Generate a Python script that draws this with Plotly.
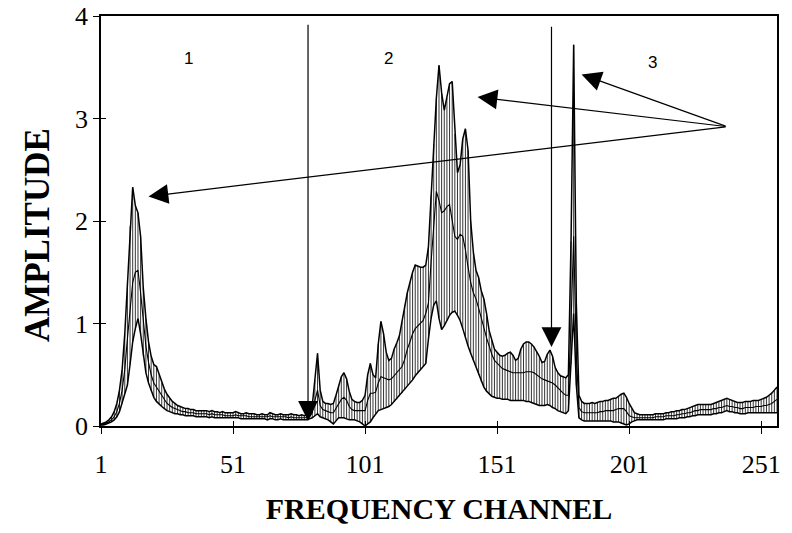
import plotly.graph_objects as go

channels = list(range(1, 258))

upper = [
    0.02, 0.03, 0.04, 0.06, 0.09, 0.14, 0.22, 0.35, 0.55, 0.90,
    1.40, 1.95, 2.33, 2.15, 2.08, 1.85, 1.35, 1.05, 0.82, 0.68,
    0.60, 0.58, 0.50, 0.42, 0.36, 0.31, 0.27, 0.24, 0.22, 0.20,
    0.19, 0.18, 0.17, 0.17, 0.16, 0.16, 0.15, 0.15, 0.15, 0.15,
    0.15, 0.14, 0.15, 0.14, 0.14, 0.13, 0.14, 0.13, 0.13, 0.13,
    0.13, 0.14, 0.13, 0.12, 0.12, 0.13, 0.12, 0.12, 0.12, 0.11,
    0.11, 0.12, 0.11, 0.11, 0.13, 0.12, 0.11, 0.11, 0.12, 0.11,
    0.11, 0.11, 0.12, 0.11, 0.11, 0.10, 0.11, 0.10, 0.11, 0.12,
    0.20, 0.45, 0.71, 0.35, 0.24, 0.22, 0.22, 0.21, 0.22, 0.30,
    0.40, 0.48, 0.52, 0.46, 0.34, 0.26, 0.24, 0.23, 0.23, 0.25,
    0.30, 0.50, 0.61, 0.50, 0.47, 0.80, 1.02, 0.90, 0.72, 0.64,
    0.66, 0.75, 0.81, 0.88, 1.02, 1.18, 1.30, 1.40, 1.50, 1.57,
    1.56, 1.55, 1.55, 1.57, 1.75, 2.25, 2.75, 3.20, 3.52, 3.25,
    3.08, 3.20, 3.34, 3.36, 2.85, 2.47, 2.55, 2.80, 2.90, 2.69,
    2.00, 1.70, 1.52, 1.45, 1.32, 1.24, 1.10, 0.93, 0.84, 0.75,
    0.72, 0.69, 0.68, 0.69, 0.71, 0.72, 0.69, 0.64, 0.66, 0.75,
    0.80, 0.82, 0.82, 0.80, 0.77, 0.73, 0.68, 0.62, 0.63, 0.70,
    0.74, 0.68, 0.57, 0.52, 0.49, 0.48, 0.47, 0.50, 1.80, 3.72,
    1.20, 0.30, 0.24, 0.22, 0.22, 0.22, 0.23, 0.22, 0.23, 0.24,
    0.24, 0.25, 0.25, 0.26, 0.27, 0.27, 0.29, 0.31, 0.32, 0.28,
    0.22, 0.17, 0.13, 0.12, 0.11, 0.11, 0.11, 0.11, 0.11, 0.11,
    0.12, 0.12, 0.12, 0.12, 0.13, 0.13, 0.14, 0.14, 0.15, 0.15,
    0.16, 0.16, 0.17, 0.18, 0.19, 0.20, 0.21, 0.21, 0.21, 0.21,
    0.21, 0.21, 0.22, 0.23, 0.24, 0.25, 0.26, 0.27, 0.26, 0.25,
    0.24, 0.23, 0.23, 0.23, 0.24, 0.24, 0.24, 0.25, 0.25, 0.25,
    0.26, 0.27, 0.28, 0.30, 0.32, 0.35, 0.38,
]

mean = [
    0.01, 0.02, 0.03, 0.04, 0.06, 0.09, 0.14, 0.22, 0.35, 0.55,
    0.85, 1.15, 1.40, 1.50, 1.52, 1.30, 1.00, 0.78, 0.62, 0.50,
    0.42, 0.38, 0.33, 0.29, 0.25, 0.22, 0.20, 0.18, 0.17, 0.16,
    0.15, 0.14, 0.14, 0.13, 0.13, 0.13, 0.12, 0.12, 0.12, 0.12,
    0.12, 0.11, 0.12, 0.11, 0.11, 0.11, 0.11, 0.10, 0.10, 0.10,
    0.10, 0.11, 0.10, 0.10, 0.10, 0.10, 0.09, 0.09, 0.09, 0.09,
    0.09, 0.09, 0.09, 0.09, 0.10, 0.09, 0.09, 0.09, 0.09, 0.09,
    0.09, 0.08, 0.09, 0.08, 0.08, 0.08, 0.08, 0.08, 0.08, 0.09,
    0.13, 0.25, 0.35, 0.20, 0.16, 0.15, 0.14, 0.13, 0.13, 0.17,
    0.22, 0.26, 0.28, 0.25, 0.19, 0.16, 0.15, 0.15, 0.15, 0.15,
    0.15, 0.25, 0.32, 0.32, 0.33, 0.42, 0.48, 0.47, 0.46, 0.45,
    0.46, 0.49, 0.52, 0.55, 0.58, 0.65, 0.75, 0.82, 0.90, 0.95,
    0.98, 1.01, 1.03, 1.10, 1.20, 1.60, 2.00, 2.29, 2.20, 2.08,
    2.10, 2.14, 2.16, 2.00, 1.85, 1.82, 1.87, 1.85, 1.72, 1.55,
    1.40, 1.30, 1.24, 1.15, 1.04, 0.96, 0.86, 0.77, 0.70, 0.64,
    0.61, 0.58, 0.56, 0.55, 0.54, 0.53, 0.52, 0.52, 0.52, 0.52,
    0.52, 0.53, 0.53, 0.53, 0.52, 0.50, 0.48, 0.46, 0.45, 0.44,
    0.43, 0.42, 0.40, 0.37, 0.34, 0.32, 0.30, 0.30, 1.00, 1.85,
    0.70, 0.18, 0.14, 0.13, 0.13, 0.13, 0.13, 0.13, 0.13, 0.14,
    0.14, 0.15, 0.15, 0.15, 0.15, 0.16, 0.17, 0.17, 0.17, 0.14,
    0.10, 0.09, 0.08, 0.08, 0.08, 0.08, 0.08, 0.08, 0.08, 0.08,
    0.09, 0.09, 0.09, 0.09, 0.10, 0.10, 0.10, 0.10, 0.11, 0.11,
    0.12, 0.12, 0.13, 0.13, 0.14, 0.15, 0.15, 0.16, 0.16, 0.16,
    0.16, 0.16, 0.17, 0.17, 0.18, 0.18, 0.19, 0.20, 0.19, 0.19,
    0.18, 0.18, 0.17, 0.17, 0.18, 0.18, 0.18, 0.18, 0.19, 0.19,
    0.19, 0.20, 0.20, 0.21, 0.22, 0.24, 0.26,
]

lower = [
    0.01, 0.01, 0.02, 0.03, 0.04, 0.06, 0.09, 0.14, 0.22, 0.32,
    0.40, 0.60, 0.82, 0.95, 1.05, 0.90, 0.68, 0.52, 0.42, 0.34,
    0.28, 0.24, 0.21, 0.19, 0.17, 0.15, 0.14, 0.13, 0.12, 0.12,
    0.11, 0.11, 0.10, 0.10, 0.10, 0.10, 0.09, 0.09, 0.09, 0.09,
    0.09, 0.08, 0.09, 0.08, 0.08, 0.08, 0.08, 0.08, 0.08, 0.08,
    0.08, 0.08, 0.08, 0.07, 0.07, 0.07, 0.07, 0.07, 0.07, 0.07,
    0.07, 0.07, 0.07, 0.06, 0.07, 0.07, 0.06, 0.06, 0.07, 0.06,
    0.06, 0.06, 0.06, 0.06, 0.06, 0.06, 0.06, 0.06, 0.06, 0.07,
    0.08, 0.10, 0.12, 0.09, 0.08, 0.07, 0.06, 0.04, 0.02, 0.05,
    0.08, 0.08, 0.08, 0.07, 0.06, 0.06, 0.06, 0.05, 0.04, 0.02,
    0.00, 0.02, 0.04, 0.08, 0.12, 0.15, 0.16, 0.17, 0.18, 0.19,
    0.21, 0.24, 0.26, 0.29, 0.32, 0.35, 0.39, 0.42, 0.45, 0.49,
    0.52, 0.55, 0.58, 0.61, 0.85, 1.05, 1.18, 1.22, 1.05, 0.94,
    0.98, 1.03, 1.08, 1.11, 1.12, 1.08, 1.03, 0.95, 0.86, 0.78,
    0.71, 0.64, 0.58, 0.50, 0.43, 0.38, 0.34, 0.31, 0.29, 0.28,
    0.27, 0.27, 0.26, 0.26, 0.26, 0.25, 0.25, 0.25, 0.25, 0.25,
    0.25, 0.24, 0.24, 0.23, 0.22, 0.21, 0.20, 0.20, 0.20, 0.21,
    0.20, 0.18, 0.17, 0.15, 0.14, 0.13, 0.12, 0.15, 0.60, 1.10,
    0.40, 0.08, 0.06, 0.05, 0.05, 0.05, 0.05, 0.05, 0.05, 0.05,
    0.05, 0.05, 0.05, 0.05, 0.04, 0.04, 0.04, 0.03, 0.02, 0.01,
    0.02, 0.04, 0.05, 0.06, 0.06, 0.06, 0.06, 0.06, 0.06, 0.06,
    0.06, 0.06, 0.06, 0.06, 0.07, 0.07, 0.07, 0.07, 0.07, 0.08,
    0.08, 0.08, 0.09, 0.09, 0.10, 0.10, 0.11, 0.11, 0.11, 0.11,
    0.11, 0.11, 0.12, 0.12, 0.13, 0.13, 0.14, 0.15, 0.14, 0.14,
    0.13, 0.13, 0.12, 0.12, 0.12, 0.13, 0.13, 0.13, 0.13, 0.13,
    0.13, 0.13, 0.13, 0.13, 0.13, 0.13, 0.13,
]

x_ticks = [1, 51, 101, 151, 201, 251]
y_ticks = [0, 1, 2, 3, 4]
region_labels = ["1", "2", "3"]
region_label_x = [34, 110, 210]
region_label_y = [3.59, 3.59, 3.55]

arrow_source = (238.1, 2.92)
arrow_targets_x = [19.0, 143.6, 183.0]
arrow_targets_y = [2.24, 3.21, 3.43]
divider_x = [79.4, 171.6]
divider_top = [3.93, 3.91]
divider_tip = [0.05, 0.77]

serif = "Liberation Serif, Times New Roman, serif"

fig = go.Figure()

# hatching between upper and lower envelopes
fig.add_trace(go.Scatter(
    x=channels, y=mean, mode="lines",
    line=dict(color="black", width=1.1),
    error_y=dict(type="data", symmetric=False,
                 array=[u - m for u, m in zip(upper, mean)],
                 arrayminus=[m - l for m, l in zip(mean, lower)],
                 width=0, thickness=0.8, color="black"),
    showlegend=False, hoverinfo="skip",
))
fig.add_trace(go.Scatter(x=channels, y=upper, mode="lines",
                         line=dict(color="black", width=1.5),
                         showlegend=False))
fig.add_trace(go.Scatter(x=channels, y=lower, mode="lines",
                         line=dict(color="black", width=1.5),
                         showlegend=False))
# invisible trace for crossing tick overlay axes
fig.add_trace(go.Scatter(x=[1], y=[0], xaxis="x2", yaxis="y2",
                         mode="markers", marker=dict(opacity=0),
                         showlegend=False, hoverinfo="skip"))

annotations = []
for t, lx, ly in zip(region_labels, region_label_x, region_label_y):
    annotations.append(dict(x=lx, y=ly, xref="x", yref="y", text=t,
                            showarrow=False,
                            font=dict(family="Liberation Sans, Arial", size=17, color="black")))
for tx, ty in zip(arrow_targets_x, arrow_targets_y):
    annotations.append(dict(x=tx, y=ty, xref="x", yref="y",
                            ax=arrow_source[0], ay=arrow_source[1],
                            axref="x", ayref="y", text="", showarrow=True,
                            arrowhead=2, arrowsize=3.3, arrowwidth=1.2,
                            arrowcolor="black", standoff=0))
for dx, top, tip in zip(divider_x, divider_top, divider_tip):
    annotations.append(dict(x=dx, y=tip, xref="x", yref="y",
                            ax=dx, ay=top, axref="x", ayref="y", text="",
                            showarrow=True, arrowhead=2, arrowsize=3.3,
                            arrowwidth=1.2, arrowcolor="black", standoff=0))
# y-axis title
annotations.append(dict(x=-0.093, y=0.466, xref="paper", yref="paper",
                        text="<b>AMPLITUDE</b>", textangle=-90, showarrow=False,
                        xanchor="center", yanchor="middle",
                        font=dict(family=serif, size=35, color="black")))

fig.update_layout(
    width=792, height=533,
    margin=dict(l=101, r=15, t=16, b=107, autoexpand=False),
    paper_bgcolor="white", plot_bgcolor="white",
    xaxis=dict(range=[1, 257], tickvals=x_ticks, ticktext=[str(v) for v in x_ticks],
               showline=True, linecolor="black", linewidth=1.5, mirror=True,
               ticks="outside", ticklen=6, tickcolor="black", tickwidth=1,
               showgrid=False, zeroline=False, automargin=False,
               tickfont=dict(family=serif, size=26, color="black"),
               ticklabelstandoff=8,
               title=dict(text="<b>FREQUENCY CHANNEL</b>", standoff=20,
                          font=dict(family=serif, size=30, color="black"))),
    yaxis=dict(range=[0, 4], tickvals=y_ticks,
               showline=True, linecolor="black", linewidth=1.5, mirror=True,
               ticks="outside", ticklen=6, tickcolor="black", tickwidth=1,
               showgrid=False, zeroline=False, automargin=False,
               tickfont=dict(family=serif, size=26, color="black")),
    xaxis2=dict(range=[1, 257], overlaying="x", anchor="y", side="bottom",
                tickvals=x_ticks, showticklabels=False, ticks="inside",
                ticklen=5, tickcolor="black", showgrid=False, zeroline=False,
                showline=False, automargin=False),
    yaxis2=dict(range=[0, 4], overlaying="y", anchor="x", side="left",
                tickvals=y_ticks, showticklabels=False, ticks="inside",
                ticklen=5, tickcolor="black", showgrid=False, zeroline=False,
                showline=False, automargin=False),
    annotations=annotations,
)

fig.write_html("out.html")
